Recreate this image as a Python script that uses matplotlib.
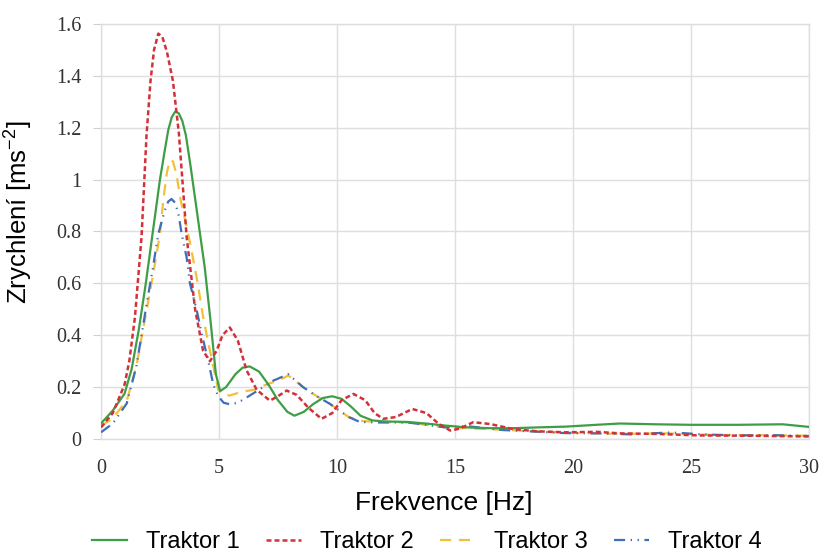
import matplotlib
matplotlib.use("Agg")
import matplotlib.pyplot as plt
from matplotlib.ticker import FuncFormatter

# Frekvence [Hz] / zrychlení [m s^-2]
f_t1 = [0, 0.5, 1.0, 1.3, 1.6, 1.9, 2.2, 2.5, 2.7, 2.85, 3.0, 3.15, 3.3, 3.45, 3.6, 3.8, 4.0,
        4.2, 4.4, 4.65, 4.87, 5.05, 5.3, 5.7, 6.0, 6.3, 6.7, 7.1, 7.5, 7.9, 8.2, 8.6, 9.0, 9.4,
        9.8, 10.2, 10.6, 11.0, 11.5, 12.0, 13.0, 14.0, 14.6, 15.5, 16.5, 17.5, 18.5, 19.7, 21.0,
        22.0, 23.5, 25.0, 27.0, 28.9, 30]
a_t1 = [0.06, 0.11, 0.175, 0.27, 0.42, 0.6, 0.8, 1.0, 1.11, 1.19, 1.24, 1.262, 1.255, 1.225, 1.17,
        1.05, 0.92, 0.79, 0.66, 0.45, 0.25, 0.185, 0.2, 0.25, 0.275, 0.28, 0.26, 0.21, 0.15, 0.105,
        0.09, 0.105, 0.135, 0.158, 0.165, 0.155, 0.125, 0.09, 0.072, 0.068, 0.066, 0.058, 0.052,
        0.045, 0.042, 0.042, 0.045, 0.048, 0.055, 0.06, 0.057, 0.055, 0.055, 0.057, 0.047]

f_t2 = [0, 0.5, 1.0, 1.2, 1.44, 1.72, 1.93, 2.1, 2.25, 2.43, 2.6, 2.8, 3.05, 3.3, 3.63, 3.99,
        4.33, 4.62, 4.9, 5.15, 5.46, 5.8, 6.17, 6.6, 7.16, 7.5, 7.87, 8.3, 8.8, 9.35, 9.8, 10.2,
        10.7, 11.2, 11.6, 11.96, 12.5, 13.2, 13.8, 14.3, 14.8, 15.2, 15.78, 16.5, 17.5, 18.5,
        19.7, 21.0, 22.0, 23.5, 25.4, 27.5, 30]
a_t2 = [0.045, 0.1, 0.21, 0.3, 0.47, 0.78, 1.17, 1.38, 1.5, 1.562, 1.55, 1.49, 1.38, 1.18, 0.78,
        0.5, 0.34, 0.30, 0.34, 0.4, 0.43, 0.38, 0.265, 0.19, 0.148, 0.165, 0.187, 0.17, 0.12,
        0.078, 0.1, 0.15, 0.174, 0.15, 0.1, 0.078, 0.085, 0.116, 0.1, 0.06, 0.033, 0.04, 0.065,
        0.058, 0.038, 0.03, 0.026, 0.028, 0.022, 0.02, 0.014, 0.013, 0.01]

f_t3 = [0, 0.5, 1.1, 1.5, 1.9, 2.2, 2.5, 2.64, 2.8, 2.92, 3.05, 3.2, 3.38, 3.63, 3.85, 4.1, 4.33,
        4.55, 4.76, 4.97, 5.2, 5.46, 6.0, 6.5, 7.0, 7.5, 7.94, 8.57, 9.15, 9.7, 10.1, 10.5, 11.0,
        11.7, 13.0, 14.6, 16.0, 17.5, 19.7, 22.0, 24.0, 26.0, 28.0, 30]
a_t3 = [0.05, 0.08, 0.15, 0.28, 0.48, 0.63, 0.79, 0.92, 1.03, 1.075, 1.07, 1.02, 0.92, 0.82, 0.72,
        0.6, 0.47, 0.37, 0.28, 0.19, 0.17, 0.168, 0.183, 0.19, 0.21, 0.225, 0.245, 0.2, 0.165,
        0.136, 0.11, 0.085, 0.07, 0.066, 0.064, 0.045, 0.04, 0.034, 0.025, 0.02, 0.022, 0.016,
        0.015, 0.013]

f_t4 = [0, 0.5, 1.09, 1.5, 1.9, 2.2, 2.43, 2.7, 2.85, 2.99, 3.15, 3.3, 3.42, 3.63, 3.77, 4.05,
        4.27, 4.55, 4.76, 4.97, 5.2, 5.46, 5.8, 6.17, 6.7, 7.3, 7.94, 8.57, 9.15, 9.7, 10.1, 10.5,
        10.97, 11.7, 13.0, 14.6, 15.5, 17.0, 19.7, 21.0, 22.5, 24.0, 24.5, 25.5, 27.0, 28.5, 30]
a_t4 = [0.026, 0.06, 0.137, 0.28, 0.5, 0.66, 0.79, 0.88, 0.915, 0.925, 0.91, 0.86, 0.79, 0.7,
        0.6, 0.5, 0.405, 0.3, 0.21, 0.165, 0.14, 0.134, 0.14, 0.16, 0.19, 0.225, 0.25, 0.2, 0.165,
        0.136, 0.11, 0.085, 0.066, 0.064, 0.064, 0.045, 0.05, 0.035, 0.023, 0.022, 0.018, 0.025,
        0.024, 0.018, 0.014, 0.015, 0.012]

popisky = ["Traktor 1", "Traktor 2", "Traktor 3", "Traktor 4"]

plt.rcParams['mathtext.default'] = 'regular'
sans = ['Liberation Sans', 'DejaVu Sans']
serif = ['Liberation Serif', 'DejaVu Serif']

fig = plt.figure(figsize=(8.21, 5.53), dpi=100)
ax = fig.add_axes([0.123, 0.206, 0.862, 0.751])

ax.plot(f_t3, a_t3, color='#F4BF3A', lw=1.6, ls=(0, (5, 3.5)), zorder=2, label=popisky[2])
ax.plot(f_t4, a_t4, color='#3F6FB8', lw=1.6, ls=(0, (5, 2.5, 0.6, 2.5, 0.6, 2.5)), zorder=3,
        label=popisky[3])
ax.plot(f_t1, a_t1, color='#3E9E48', lw=1.6, zorder=4, label=popisky[0])
ax.plot(f_t2, a_t2, color='#D2313A', lw=1.8, ls=(0, (2, 1.2)), zorder=5, label=popisky[1])

ax.set_xlim(0, 30)
ax.set_ylim(0, 1.6)
ax.set_xticks(range(0, 31, 5))
ax.set_yticks([0, 0.2, 0.4, 0.6, 0.8, 1.0, 1.2, 1.4, 1.6])
ax.yaxis.set_major_formatter(FuncFormatter(lambda v, p: f"{v:g}"))
ax.grid(True, color='#DEDEDE', lw=1.0)
ax.set_axisbelow(True)
for s in ax.spines.values():
    s.set_color('#DEDEDE')
    s.set_linewidth(1.0)

ax.tick_params(axis='y', length=6, color='#D0D0D0', pad=8)
ax.tick_params(axis='x', length=0, pad=14)
for t in ax.get_xticklabels() + ax.get_yticklabels():
    t.set_family(serif)
    t.set_fontsize(14.5)
    t.set_color('#333333')

ax.set_xlabel("Frekvence [Hz]", family=sans, fontsize=19)
ax.set_ylabel("Zrychlení [ms$^{-2}$]", family=sans, fontsize=18.5)
ax.xaxis.set_label_coords(0.4845, -0.125)
ax.yaxis.set_label_coords(-0.093, 0.545)

# poradi v legende jako v originalu
h, l = ax.get_legend_handles_labels()
poradi = [l.index(p) for p in popisky]
fig.legend([h[i] for i in poradi], popisky, loc='center', bbox_to_anchor=(0.52, 0.019),
           ncol=4, frameon=False, prop={'family': sans, 'size': 17},
           handlelength=1.5, handletextpad=0.8, columnspacing=1.1)

fig.savefig("out.png", dpi=100)
